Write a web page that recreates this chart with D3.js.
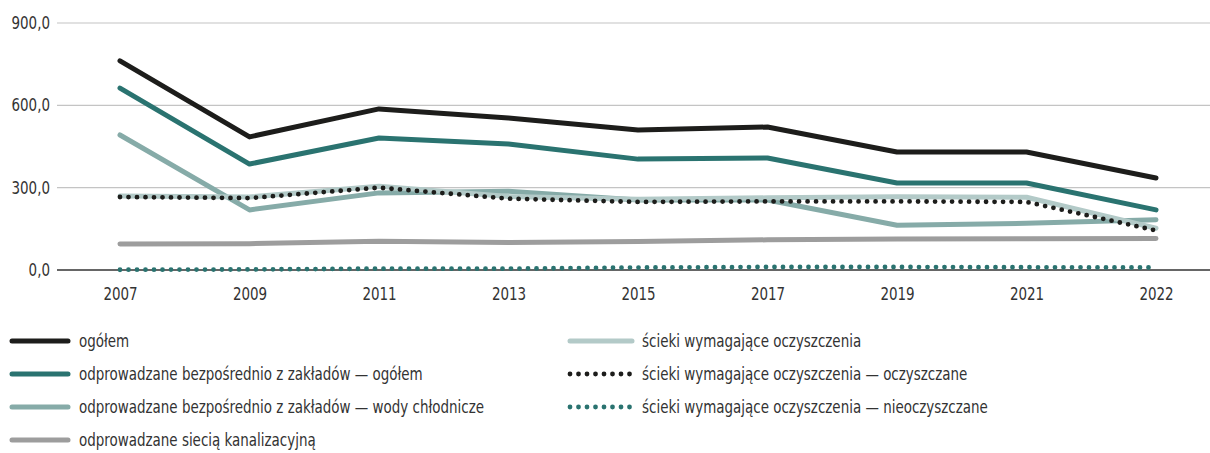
<!DOCTYPE html>
<html>
<head>
<meta charset="utf-8">
<script src="https://cdn.jsdelivr.net/npm/d3@7"></script>
<style>
  body { margin: 0; background: #fff; }
  svg text { font-family: "Liberation Sans Narrow", "DejaVu Sans Condensed", sans-serif; fill: #333; }
</style>
</head>
<body>
<svg id="chart" width="1210" height="453"></svg>
<script>
var years = ["2007", "2009", "2011", "2013", "2015", "2017", "2019", "2021", "2022"];
var yTicks = [0, 300, 600, 900];

var ogolem         = [762, 485, 587, 554, 510, 521, 430, 430, 335];
var bezposrednio   = [663, 386, 481, 459, 404, 408, 317, 317, 219];
var chlodnicze     = [492, 219, 281, 287, 255, 255, 163, 170, 183];
var wymagajace     = [270, 266, 305, 268, 258, 263, 267, 265, 152];
var kanalizacja    = [95, 96, 105, 100, 104, 110, 113, 114, 115];
var oczyszczane    = [266, 262, 300, 260, 248, 250, 250, 248, 144];
var nieoczyszczane = [1, 2, 5, 5, 9, 11, 11, 10, 9];

var series = [
  {name: "ogółem", values: ogolem, color: "#1d1d1b", dotted: false, col: 0, row: 0},
  {name: "odprowadzane bezpośrednio z zakładów — ogółem", values: bezposrednio, color: "#2a7370", dotted: false, col: 0, row: 1},
  {name: "odprowadzane bezpośrednio z zakładów — wody chłodnicze", values: chlodnicze, color: "#86aba8", dotted: false, col: 0, row: 2},
  {name: "ścieki wymagające oczyszczenia", values: wymagajace, color: "#b3cac8", dotted: false, col: 1, row: 0},
  {name: "odprowadzane siecią kanalizacyjną", values: kanalizacja, color: "#9d9d9d", dotted: false, col: 0, row: 3},
  {name: "ścieki wymagające oczyszczenia — oczyszczane", values: oczyszczane, color: "#1d1d1b", dotted: true, col: 1, row: 1},
  {name: "ścieki wymagające oczyszczenia — nieoczyszczane", values: nieoczyszczane, color: "#2a7370", dotted: true, col: 1, row: 2}
];

var squeeze = "scale(0.88,1)";

var svg = d3.select("#chart");
var x = d3.scalePoint().domain(years).range([120, 1156]);
var y = d3.scaleLinear().domain([0, 900]).range([270, 23]);
var fmt = function(d) { return d3.format(".1f")(d).replace(".", ","); };

// grid
svg.append("g").selectAll("line")
  .data(yTicks)
  .enter().append("line")
  .attr("x1", 57).attr("x2", 1210)
  .attr("y1", function(d) { return y(d); })
  .attr("y2", function(d) { return y(d); })
  .attr("stroke", function(d) { return d === 0 ? "#333" : "#c4c4c4"; })
  .attr("stroke-width", function(d) { return d === 0 ? 1.5 : 1.2; });

var yAxis = svg.append("g")
  .attr("transform", "translate(50,0)")
  .call(d3.axisLeft(y).tickValues(yTicks).tickFormat(fmt).tickSize(0).tickPadding(0));
yAxis.select(".domain").remove();
yAxis.selectAll("text").attr("font-size", 17).attr("fill", "#333").attr("transform", squeeze);

var xAxis = svg.append("g")
  .attr("transform", "translate(0,270)")
  .call(d3.axisBottom(x).tickSize(0).tickPadding(18));
xAxis.select(".domain").remove();
xAxis.selectAll("text").attr("font-size", 17).attr("fill", "#333").attr("transform", squeeze);

var line = d3.line()
  .x(function(d, i) { return x(years[i]); })
  .y(function(d) { return y(d); });

function styleLine(sel, s) {
  sel.attr("fill", "none")
    .attr("stroke", s.color)
    .attr("stroke-linecap", "round")
    .attr("stroke-linejoin", "round");
  if (s.dotted) {
    sel.attr("stroke-width", 4.8).attr("stroke-dasharray", "0,8.5");
  } else {
    sel.attr("stroke-width", 5);
  }
}

series.forEach(function(s) {
  svg.append("path").datum(s.values).attr("d", line).call(styleLine, s);
});

// legend
var legend = svg.append("g");
series.forEach(function(s) {
  var lx = s.col === 0 ? 12 : 570;
  var ly = 341 + s.row * 33;
  legend.append("line")
    .attr("x1", lx).attr("x2", lx + 56 + (s.col === 0 ? 0 : 6))
    .attr("y1", ly).attr("y2", ly)
    .call(styleLine, s);
  legend.append("text")
    .attr("transform", "translate(" + (s.col === 0 ? 79 : 642) + "," + ly + ") " + squeeze)
    .attr("dy", "0.35em")
    .attr("font-size", 17)
    .text(s.name);
});
</script>
</body>
</html>
